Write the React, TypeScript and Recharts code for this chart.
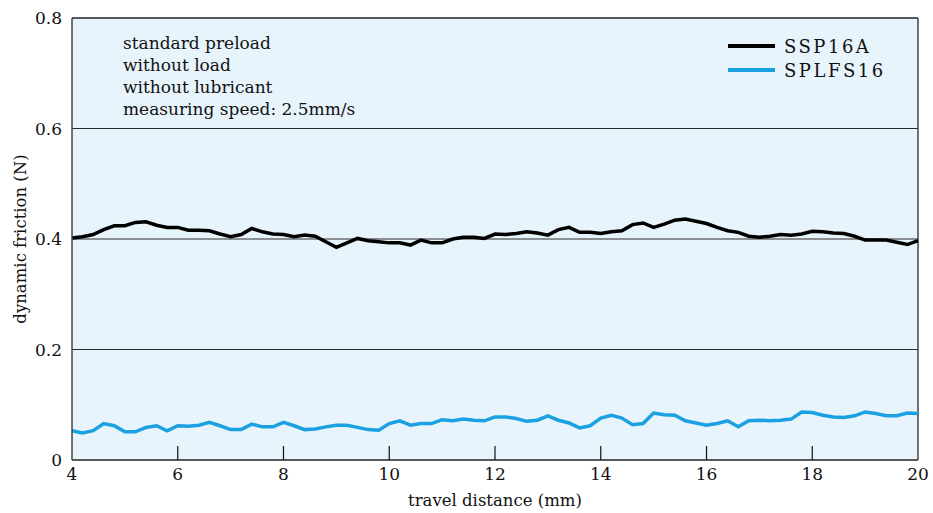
import React from "react";
import { CartesianGrid, Line, LineChart, ReferenceLine, XAxis, YAxis } from "recharts";

// travel distance (mm), sampled every 0.2 mm
const distance = [
  4.0, 4.2, 4.4, 4.6, 4.8, 5.0, 5.2, 5.4, 5.6, 5.8,
  6.0, 6.2, 6.4, 6.6, 6.8, 7.0, 7.2, 7.4, 7.6, 7.8,
  8.0, 8.2, 8.4, 8.6, 8.8, 9.0, 9.2, 9.4, 9.6, 9.8,
  10.0, 10.2, 10.4, 10.6, 10.8, 11.0, 11.2, 11.4, 11.6, 11.8,
  12.0, 12.2, 12.4, 12.6, 12.8, 13.0, 13.2, 13.4, 13.6, 13.8,
  14.0, 14.2, 14.4, 14.6, 14.8, 15.0, 15.2, 15.4, 15.6, 15.8,
  16.0, 16.2, 16.4, 16.6, 16.8, 17.0, 17.2, 17.4, 17.6, 17.8,
  18.0, 18.2, 18.4, 18.6, 18.8, 19.0, 19.2, 19.4, 19.6, 19.8, 20.0,
];

// dynamic friction (N)
const ssp16a = [
  0.402, 0.404, 0.408, 0.417, 0.424, 0.424, 0.43, 0.431, 0.425, 0.421,
  0.421, 0.416, 0.416, 0.415, 0.409, 0.404, 0.408, 0.419, 0.413, 0.409,
  0.408, 0.404, 0.407, 0.405, 0.395, 0.385, 0.393, 0.401, 0.397, 0.395,
  0.393, 0.393, 0.389, 0.398, 0.393, 0.393, 0.4, 0.403, 0.403, 0.401,
  0.409, 0.408, 0.41, 0.413, 0.411, 0.407, 0.417, 0.421, 0.412, 0.412,
  0.41, 0.413, 0.415, 0.426, 0.429, 0.421, 0.427, 0.434, 0.436, 0.432,
  0.428, 0.421, 0.415, 0.412, 0.405, 0.403, 0.405, 0.408, 0.407, 0.409,
  0.414, 0.413, 0.411, 0.41, 0.405, 0.398, 0.398, 0.398, 0.394, 0.39, 0.397,
];

const splfs16 = [
  0.053, 0.049, 0.053, 0.066, 0.062, 0.051, 0.051, 0.059, 0.062, 0.053,
  0.062, 0.061, 0.063, 0.068, 0.062, 0.055, 0.055, 0.065, 0.06, 0.06,
  0.068, 0.062, 0.055, 0.056, 0.06, 0.063, 0.063, 0.059, 0.055, 0.054,
  0.066, 0.071, 0.063, 0.066, 0.066, 0.073, 0.071, 0.074, 0.072, 0.071,
  0.078, 0.078, 0.075, 0.07, 0.072, 0.08, 0.072, 0.067, 0.058, 0.062,
  0.076, 0.081, 0.076, 0.064, 0.066, 0.085, 0.082, 0.081, 0.071, 0.067,
  0.063, 0.066, 0.071, 0.06, 0.071, 0.072, 0.071, 0.072, 0.074, 0.087,
  0.086, 0.081, 0.078, 0.077, 0.08, 0.087, 0.084, 0.08, 0.08, 0.085, 0.084,
];

const xTicks = [4, 6, 8, 10, 12, 14, 16, 18, 20];
const yTicks = [0, 0.2, 0.4, 0.6, 0.8];
const notes = ["standard preload", "without load", "without lubricant", "measuring speed: 2.5mm/s"];

const FONT = "'DejaVu Serif', serif";
const INK = "#111";
const BLUE = "#1ba1e2";
const BG = "#e8f4fc";
const FRAME = "#444";

const rows = distance.map((x, i) => ({ x, ssp: ssp16a[i], splfs: splfs16[i] }));

function XTick(props: any) {
  const { x, y, payload } = props;
  const v = payload.value as number;
  const inner = v !== 4 && v !== 20;
  return (
    <g>
      {inner ? <line x1={x} x2={x} y1={y} y2={y - 14} stroke={INK} strokeWidth={1.2} /> : null}
      <text x={x} y={y + 20} textAnchor="middle" fill={INK} fontSize={17} fontFamily={FONT}>
        {v}
      </text>
    </g>
  );
}

function YLabel(props: any) {
  const vb = props.viewBox;
  const cx = 20;
  const cy = vb.y + vb.height / 2;
  return (
    <text
      x={cx}
      y={cy}
      transform={`rotate(-90, ${cx}, ${cy})`}
      textAnchor="middle"
      dominantBaseline="central"
      fill={INK}
      fontSize={16.5}
      fontFamily={FONT}
    >
      dynamic friction (N)
    </text>
  );
}

function XLabel(props: any) {
  const vb = props.viewBox;
  return (
    <text x={vb.x + vb.width / 2} y={vb.y + 46} textAnchor="middle" fill={INK} fontSize={16.5} fontFamily={FONT}>
      travel distance (mm)
    </text>
  );
}

export default function App() {
  return (
    <div style={{ position: "relative", width: 933, height: 513, background: "#fff" }}>
      <style>{"body{margin:0}"}</style>
      <LineChart width={933} height={513} data={rows} margin={{ top: 18, right: 15, bottom: 0, left: 0 }}>
        <CartesianGrid fill={BG} stroke="#2a2a2a" strokeWidth={1} vertical={false} />
        <XAxis
          dataKey="x"
          type="number"
          domain={[4, 20]}
          ticks={xTicks}
          height={53}
          tickSize={0}
          tickMargin={0}
          tickLine={false}
          tick={<XTick />}
          axisLine={{ stroke: FRAME, strokeWidth: 1.5 }}
          label={<XLabel />}
        />
        <YAxis
          type="number"
          domain={[0, 0.8]}
          ticks={yTicks}
          width={72}
          tickSize={0}
          tickMargin={10}
          tickLine={false}
          tickFormatter={(v: number) => (v === 0 ? "0" : v.toFixed(1))}
          tick={{ fill: INK, fontSize: 17, fontFamily: FONT }}
          axisLine={{ stroke: FRAME, strokeWidth: 1.5 }}
          label={<YLabel />}
        />
        <ReferenceLine y={0.8} stroke={FRAME} strokeWidth={1.5} />
        <ReferenceLine x={20} stroke={FRAME} strokeWidth={1.5} />
        <Line
          type="linear"
          dataKey="ssp"
          stroke="#000"
          strokeWidth={3.5}
          dot={false}
          isAnimationActive={false}
        />
        <Line
          type="linear"
          dataKey="splfs"
          stroke={BLUE}
          strokeWidth={3.5}
          dot={false}
          isAnimationActive={false}
        />
      </LineChart>
      <div
        style={{
          position: "absolute",
          left: 123,
          top: 32,
          fontFamily: FONT,
          fontSize: 17,
          lineHeight: "22px",
          color: INK,
        }}
      >
        {notes.map((n) => (
          <div key={n}>{n}</div>
        ))}
      </div>
      <div style={{ position: "absolute", left: 728, top: 34, fontFamily: FONT, fontSize: 18, color: INK }}>
        {[
          { name: "SSP16A", color: "#000" },
          { name: "SPLFS16", color: BLUE },
        ].map((s) => (
          <div key={s.name} style={{ display: "flex", alignItems: "center", height: 24 }}>
            <span style={{ display: "inline-block", width: 47, height: 4, background: s.color, marginRight: 9 }} />
            <span style={{ letterSpacing: 2.5 }}>{s.name}</span>
          </div>
        ))}
      </div>
    </div>
  );
}
